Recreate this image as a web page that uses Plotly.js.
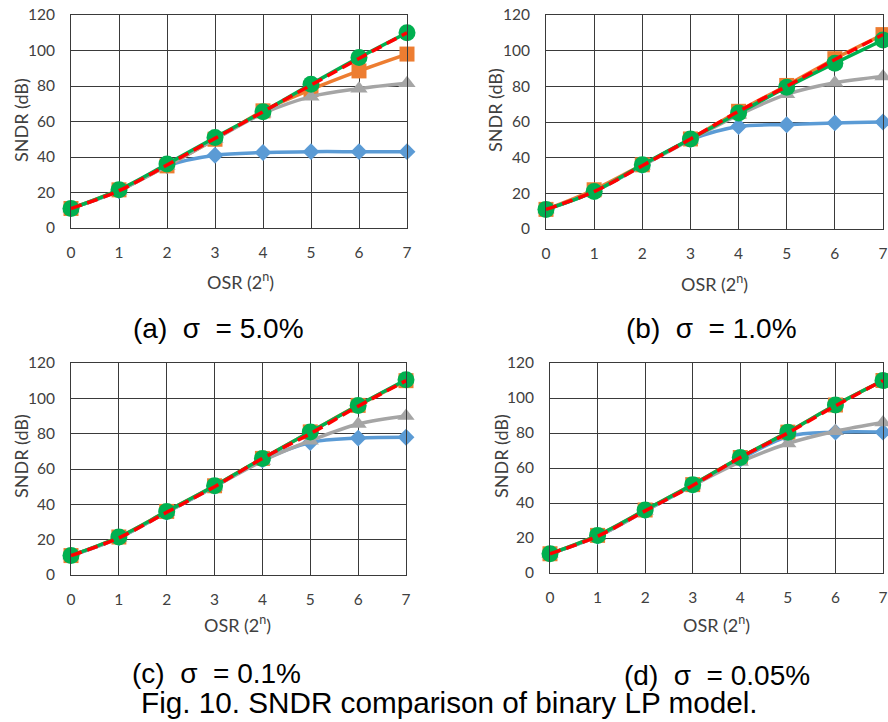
<!DOCTYPE html>
<html>
<head>
<meta charset="utf-8">
<script src="https://cdn.plot.ly/plotly-3.0.1.min.js"></script>
<style>html,body{margin:0;padding:0;background:#fff;}#chart{width:888px;height:722px;}</style>
</head>
<body>
<div id="chart"></div>
<script>
// OSR exponent n (OSR = 2^n)
const osr = [0, 1, 2, 3, 4, 5, 6, 7];

// (a) sigma = 5.0%
const a_blue   = [11, 21, 35, 41, 42.5, 43, 43, 43];
const a_orange = [11, 21.5, 35, 50, 66, 78, 88.5, 98];
const a_gray   = [11, 21, 35, 50, 64.5, 74, 78.5, 81.5];
const a_green  = [11, 21.5, 36, 51, 65.5, 81, 96, 110];
const a_ideal  = [11, 21, 35.5, 50.5, 65.5, 80.5, 95.5, 110];

// (b) sigma = 1.0%
const b_blue   = [11, 21, 35.5, 50, 57.5, 58.5, 59.5, 60];
const b_orange = [11, 22, 36, 50.5, 66, 80.5, 95.5, 109];
const b_gray   = [11, 21, 35.5, 50, 64, 75.5, 82, 85.5];
const b_green  = [11, 21, 36, 50.5, 65, 79.5, 93, 106];
const b_ideal  = [11, 21, 35.5, 50.5, 66, 80, 95, 109];

// (c) sigma = 0.1%
const c_blue   = [11, 21, 35.5, 50, 65, 75, 77.5, 78];
const c_orange = [11, 21.5, 36, 50.5, 66, 81, 96, 110];
const c_gray   = [11, 21, 35.5, 50, 64.5, 76, 85.5, 90];
const c_green  = [11, 21.5, 36, 50.5, 66, 81, 96, 110.5];
const c_ideal  = [11, 21, 35.5, 50, 66, 80, 95.5, 110];

// (d) sigma = 0.05%
const d_blue   = [11, 21, 35.5, 50, 65, 78, 80.5, 80.5];
const d_orange = [11, 21.5, 36, 50.5, 66, 80.5, 96, 110];
const d_gray   = [11, 21, 35.5, 50, 63.5, 74, 81, 86];
const d_green  = [11, 21.5, 36, 50.5, 66, 80.5, 96, 110];
const d_ideal  = [11, 21, 35.5, 50, 66, 80, 95.5, 110];

const panelLabels = ['(a)\u00A0\u00A0\u03C3\u00A0\u00A0= 5.0%', '(b)\u00A0\u00A0\u03C3\u00A0\u00A0= 1.0%',
                     '(c)\u00A0\u00A0\u03C3\u00A0\u00A0= 0.1%', '(d)\u00A0\u00A0\u03C3\u00A0\u00A0= 0.05%'];
const captionText = 'Fig. 10. SNDR comparison of binary LP model.';
const xTitle = 'OSR (2<sup>n</sup>)';
const yTitle = 'SNDR (dB)';

const panels = [
  {blue: a_blue, orange: a_orange, gray: a_gray, green: a_green, ideal: a_ideal},
  {blue: b_blue, orange: b_orange, gray: b_gray, green: b_green, ideal: b_ideal},
  {blue: c_blue, orange: c_orange, gray: c_gray, green: c_green, ideal: c_ideal},
  {blue: d_blue, orange: d_orange, gray: d_gray, green: d_green, ideal: d_ideal}
];

const W = 888, H = 722;
// plot areas in pixels: [left, right, top, bottom]
const boxes = [
  [71, 407, 15, 228],
  [546, 883, 15, 229],
  [71, 406, 363, 575],
  [550, 883, 363, 573]
];

const COL = {blue: '#5B9BD5', orange: '#ED7D31', gray: '#A5A5A5', green: '#00B050', ideal: '#FF0000'};
const traces = [];
panels.forEach((p, i) => {
  const xa = 'x' + (i === 0 ? '' : i + 1), ya = 'y' + (i === 0 ? '' : i + 1);
  const common = {x: osr, xaxis: xa, yaxis: ya, mode: 'lines+markers', showlegend: false,
                  cliponaxis: false, hoverinfo: 'x+y'};
  traces.push(Object.assign({}, common, {y: p.blue, name: 'Blue',
    line: {color: COL.blue, width: 3.5, shape: 'spline'}, marker: {symbol: 'diamond', size: 13, color: COL.blue}}));
  traces.push(Object.assign({}, common, {y: p.orange, name: 'Orange',
    line: {color: COL.orange, width: 3.5, shape: 'spline'}, marker: {symbol: 'square', size: 15, color: COL.orange}}));
  traces.push(Object.assign({}, common, {y: p.gray, name: 'Gray',
    line: {color: COL.gray, width: 3.5, shape: 'spline'}, marker: {symbol: 'triangle-up', size: 15, color: COL.gray}}));
  traces.push(Object.assign({}, common, {y: p.green, name: 'Green',
    line: {color: COL.green, width: 3.5, shape: 'spline'}, marker: {symbol: 'circle', size: 17, color: COL.green}}));
  traces.push(Object.assign({}, common, {y: p.ideal, name: 'Ideal', mode: 'lines',
    line: {color: COL.ideal, width: 3.5, dash: '11px,6px', shape: 'spline'}}));
});

const tickFont = {family: 'Lato, Carlito, sans-serif', size: 15.5, color: '#404040'};
const layout = {
  width: W, height: H, margin: {l: 0, r: 0, t: 0, b: 0},
  paper_bgcolor: '#fff', plot_bgcolor: '#fff', showlegend: false,
  annotations: []
};
boxes.forEach((b, i) => {
  const sfx = i === 0 ? '' : String(i + 1);
  layout['xaxis' + sfx] = {
    domain: [b[0] / W, b[1] / W], anchor: 'y' + sfx, range: [0, 7], dtick: 1, tick0: 0,
    showgrid: true, gridcolor: '#3a3a3a', gridwidth: 1, zeroline: false,
    showline: true, linecolor: '#3a3a3a', linewidth: 1, mirror: true,
    ticks: '', tickfont: tickFont, ticklabelstandoff: 10, fixedrange: true
  };
  layout['yaxis' + sfx] = {
    domain: [1 - b[3] / H, 1 - b[2] / H], anchor: 'x' + sfx, range: [0, 120], dtick: 20, tick0: 0,
    showgrid: true, gridcolor: '#3a3a3a', gridwidth: 1, zeroline: false,
    showline: true, linecolor: '#3a3a3a', linewidth: 1, mirror: true,
    ticks: '', tickfont: tickFont, ticklabelstandoff: 12, fixedrange: true
  };
});

const titleFont = {family: 'Lato, Carlito, sans-serif', size: 18, color: '#404040'};
const yTitlePos = [[21, 120], [495, 110], [21, 456], [501, 456]];
const xTitlePos = [[240, 281], [714, 283], [238, 624], [716, 624]];
for (let i = 0; i < 4; i++) {
  layout.annotations.push({text: yTitle, xref: 'paper', yref: 'paper', x: yTitlePos[i][0] / W, y: 1 - yTitlePos[i][1] / H,
    xanchor: 'center', yanchor: 'middle', textangle: -90, showarrow: false, font: titleFont});
  layout.annotations.push({text: xTitle, xref: 'paper', yref: 'paper', x: xTitlePos[i][0] / W, y: 1 - xTitlePos[i][1] / H,
    xanchor: 'center', yanchor: 'middle', showarrow: false, font: titleFont});
}
const labelFont = {family: 'Liberation Sans, Arial, sans-serif', size: 28, color: '#000'};
const labelPos = [[131, 328], [624, 328], [130, 673], [622, 675]];
for (let i = 0; i < 4; i++) {
  layout.annotations.push({text: panelLabels[i], xref: 'paper', yref: 'paper', x: labelPos[i][0] / W, y: 1 - labelPos[i][1] / H,
    xanchor: 'left', yanchor: 'middle', showarrow: false, font: labelFont});
}
layout.annotations.push({text: captionText, xref: 'paper', yref: 'paper', x: 139 / W, y: 1 - 702 / H,
  xanchor: 'left', yanchor: 'middle', showarrow: false, font: {family: 'Liberation Sans, Arial, sans-serif', size: 29.7, color: '#000'}});

Plotly.newPlot('chart', traces, layout, {staticPlot: true, displayModeBar: false});
</script>
</body>
</html>
